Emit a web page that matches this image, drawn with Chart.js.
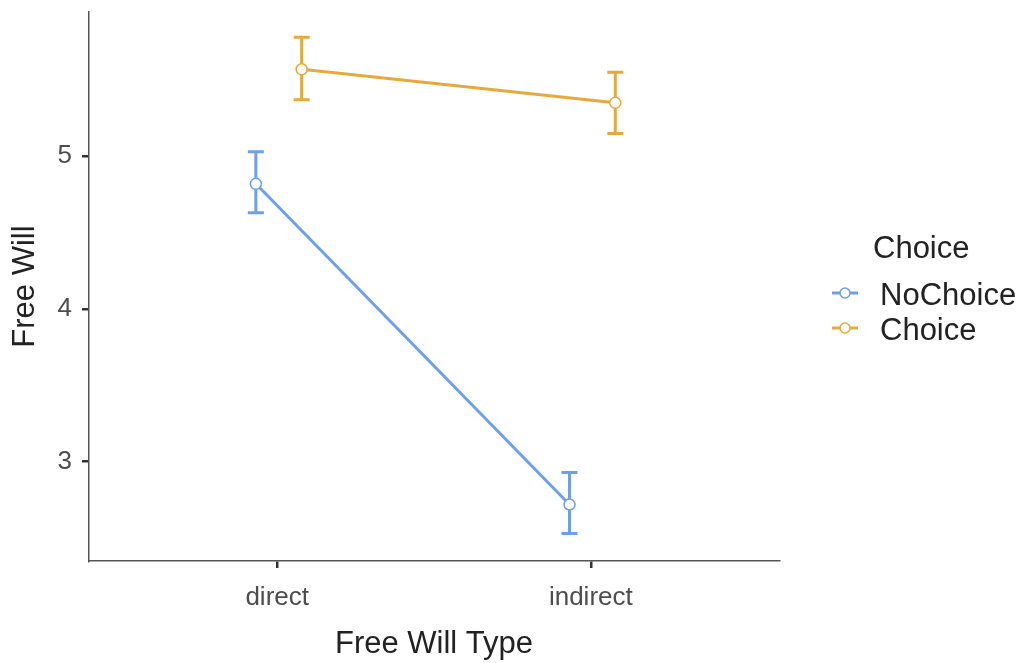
<!DOCTYPE html>
<html>
<head>
<meta charset="utf-8">
<script src="https://cdn.jsdelivr.net/npm/chart.js@4"></script>
<style>
  body { margin: 0; background: #fff; }
  #wrap { width: 1023px; height: 663px; position: relative; }
</style>
</head>
<body>
<div id="wrap"><canvas id="Chart"></canvas></div>
<script>
const categories = ['direct', 'indirect'];
const seriesNames = ['NoChoice', 'Choice'];

const noChoiceMean = [4.82, 2.72];
const noChoiceLower = [4.63, 2.53];
const noChoiceUpper = [5.03, 2.93];

const choiceMean = [5.57, 5.35];
const choiceLower = [5.37, 5.15];
const choiceUpper = [5.78, 5.55];

const yTicks = [3, 4, 5];

const blue = '#6E9FEA';
const orange = '#E6A93C';
// ggplot-style dodge so the two groups don't overlap
const dodge = [-0.068, 0.078];

function makeSeries(label, mean, lower, upper, color, k) {
    return {
        label: label,
        data: mean.map((v, i) => ({ x: i + 1 + dodge[k], y: v })),
        lower: lower,
        upper: upper,
        borderColor: color,
        backgroundColor: '#fff',
        borderWidth: 3,
        pointRadius: 5.5,
        pointBorderWidth: 1.5,
        pointBackgroundColor: '#fff',
        pointBorderColor: color,
        tension: 0,
    };
}

const dataType = {
    datasets: [
        makeSeries(seriesNames[0], noChoiceMean, noChoiceLower, noChoiceUpper, blue, 0),
        makeSeries(seriesNames[1], choiceMean, choiceLower, choiceUpper, orange, 1),
    ],
};

const errorBars = {
    id: 'errorBars',
    beforeDatasetsDraw(chart) {
        const ctx = chart.ctx;
        const xs = chart.scales.x, ys = chart.scales.y;
        ctx.save();
        chart.data.datasets.forEach(ds => {
            ctx.strokeStyle = ds.borderColor;
            ctx.lineWidth = 3;
            ds.data.forEach((p, i) => {
                const px = xs.getPixelForValue(p.x);
                const lo = ys.getPixelForValue(ds.lower[i]);
                const hi = ys.getPixelForValue(ds.upper[i]);
                ctx.beginPath();
                ctx.moveTo(px, lo); ctx.lineTo(px, hi);
                ctx.moveTo(px - 8, lo); ctx.lineTo(px + 8, lo);
                ctx.moveTo(px - 8, hi); ctx.lineTo(px + 8, hi);
                ctx.stroke();
            });
        });
        ctx.restore();
    },
};

const sideLegend = {
    id: 'sideLegend',
    afterDraw(chart) {
        const ctx = chart.ctx;
        ctx.save();
        ctx.textBaseline = 'middle';
        ctx.textAlign = 'left';
        ctx.fillStyle = '#222';
        ctx.font = '31px "Liberation Sans", Arial, sans-serif';
        ctx.fillText('Choice', 873, 249);
        const rows = [295, 330];
        chart.data.datasets.forEach((ds, i) => {
            const y = rows[i];
            ctx.strokeStyle = ds.borderColor;
            ctx.lineWidth = 3;
            ctx.beginPath();
            ctx.moveTo(832, y - 2); ctx.lineTo(858, y - 2);
            ctx.stroke();
            ctx.beginPath();
            ctx.arc(845, y - 2, 5, 0, Math.PI * 2);
            ctx.fillStyle = '#fff';
            ctx.fill();
            ctx.lineWidth = 1.5;
            ctx.stroke();
            ctx.fillStyle = '#222';
            ctx.fillText(ds.label, 880, y + 1);
        });
        ctx.restore();
    },
};

const tickFont = { family: '"Liberation Sans", Arial, sans-serif', size: 26 };
const titleFont = { family: '"Liberation Sans", Arial, sans-serif', size: 31 };
const gridStyle = { display: true, drawOnChartArea: false, drawTicks: true, tickLength: 7, color: '#333', lineWidth: 2.5 };
const borderStyle = { display: true, color: '#555', width: 1.5 };

const config = {
    type: 'line',
    data: dataType,
    options: {
        responsive: true,
        maintainAspectRatio: false,
        animation: false,
        layout: { padding: { top: 12, right: 244, left: 0, bottom: 0 } },
        plugins: {
            legend: { display: false },
            tooltip: { enabled: false },
        },
        scales: {
            x: {
                type: 'linear',
                min: 0.4,
                max: 2.6,
                afterBuildTicks: s => { s.ticks = categories.map((c, i) => ({ value: i + 1 })); },
                afterFit: s => { s.height = 102; s.paddingLeft = 0; s.paddingRight = 0; },
                ticks: {
                    callback: (v, i) => categories[i],
                    font: tickFont,
                    color: '#4D4D4D',
                    padding: 14,
                    maxRotation: 0,
                },
                grid: gridStyle,
                border: borderStyle,
                title: { display: true, text: 'Free Will Type', font: titleFont, color: '#222', padding: { top: 0, bottom: 0 } },
            },
            y: {
                type: 'linear',
                min: 2.35,
                max: 5.945,
                afterBuildTicks: s => { s.ticks = yTicks.map(v => ({ value: v })); },
                afterFit: s => { s.width = 89; s.paddingTop = 0; s.paddingBottom = 0; },
                ticks: {
                    font: tickFont,
                    color: '#4D4D4D',
                    padding: 10,
                },
                grid: gridStyle,
                border: borderStyle,
                title: { display: true, text: 'Free Will', font: titleFont, color: '#222', padding: { top: 7, bottom: 0 } },
            },
        },
    },
    plugins: [errorBars, sideLegend],
};

const ctx = document.getElementById('Chart').getContext('2d');
const myChart = new Chart(ctx, config);
</script>
</body>
</html>
